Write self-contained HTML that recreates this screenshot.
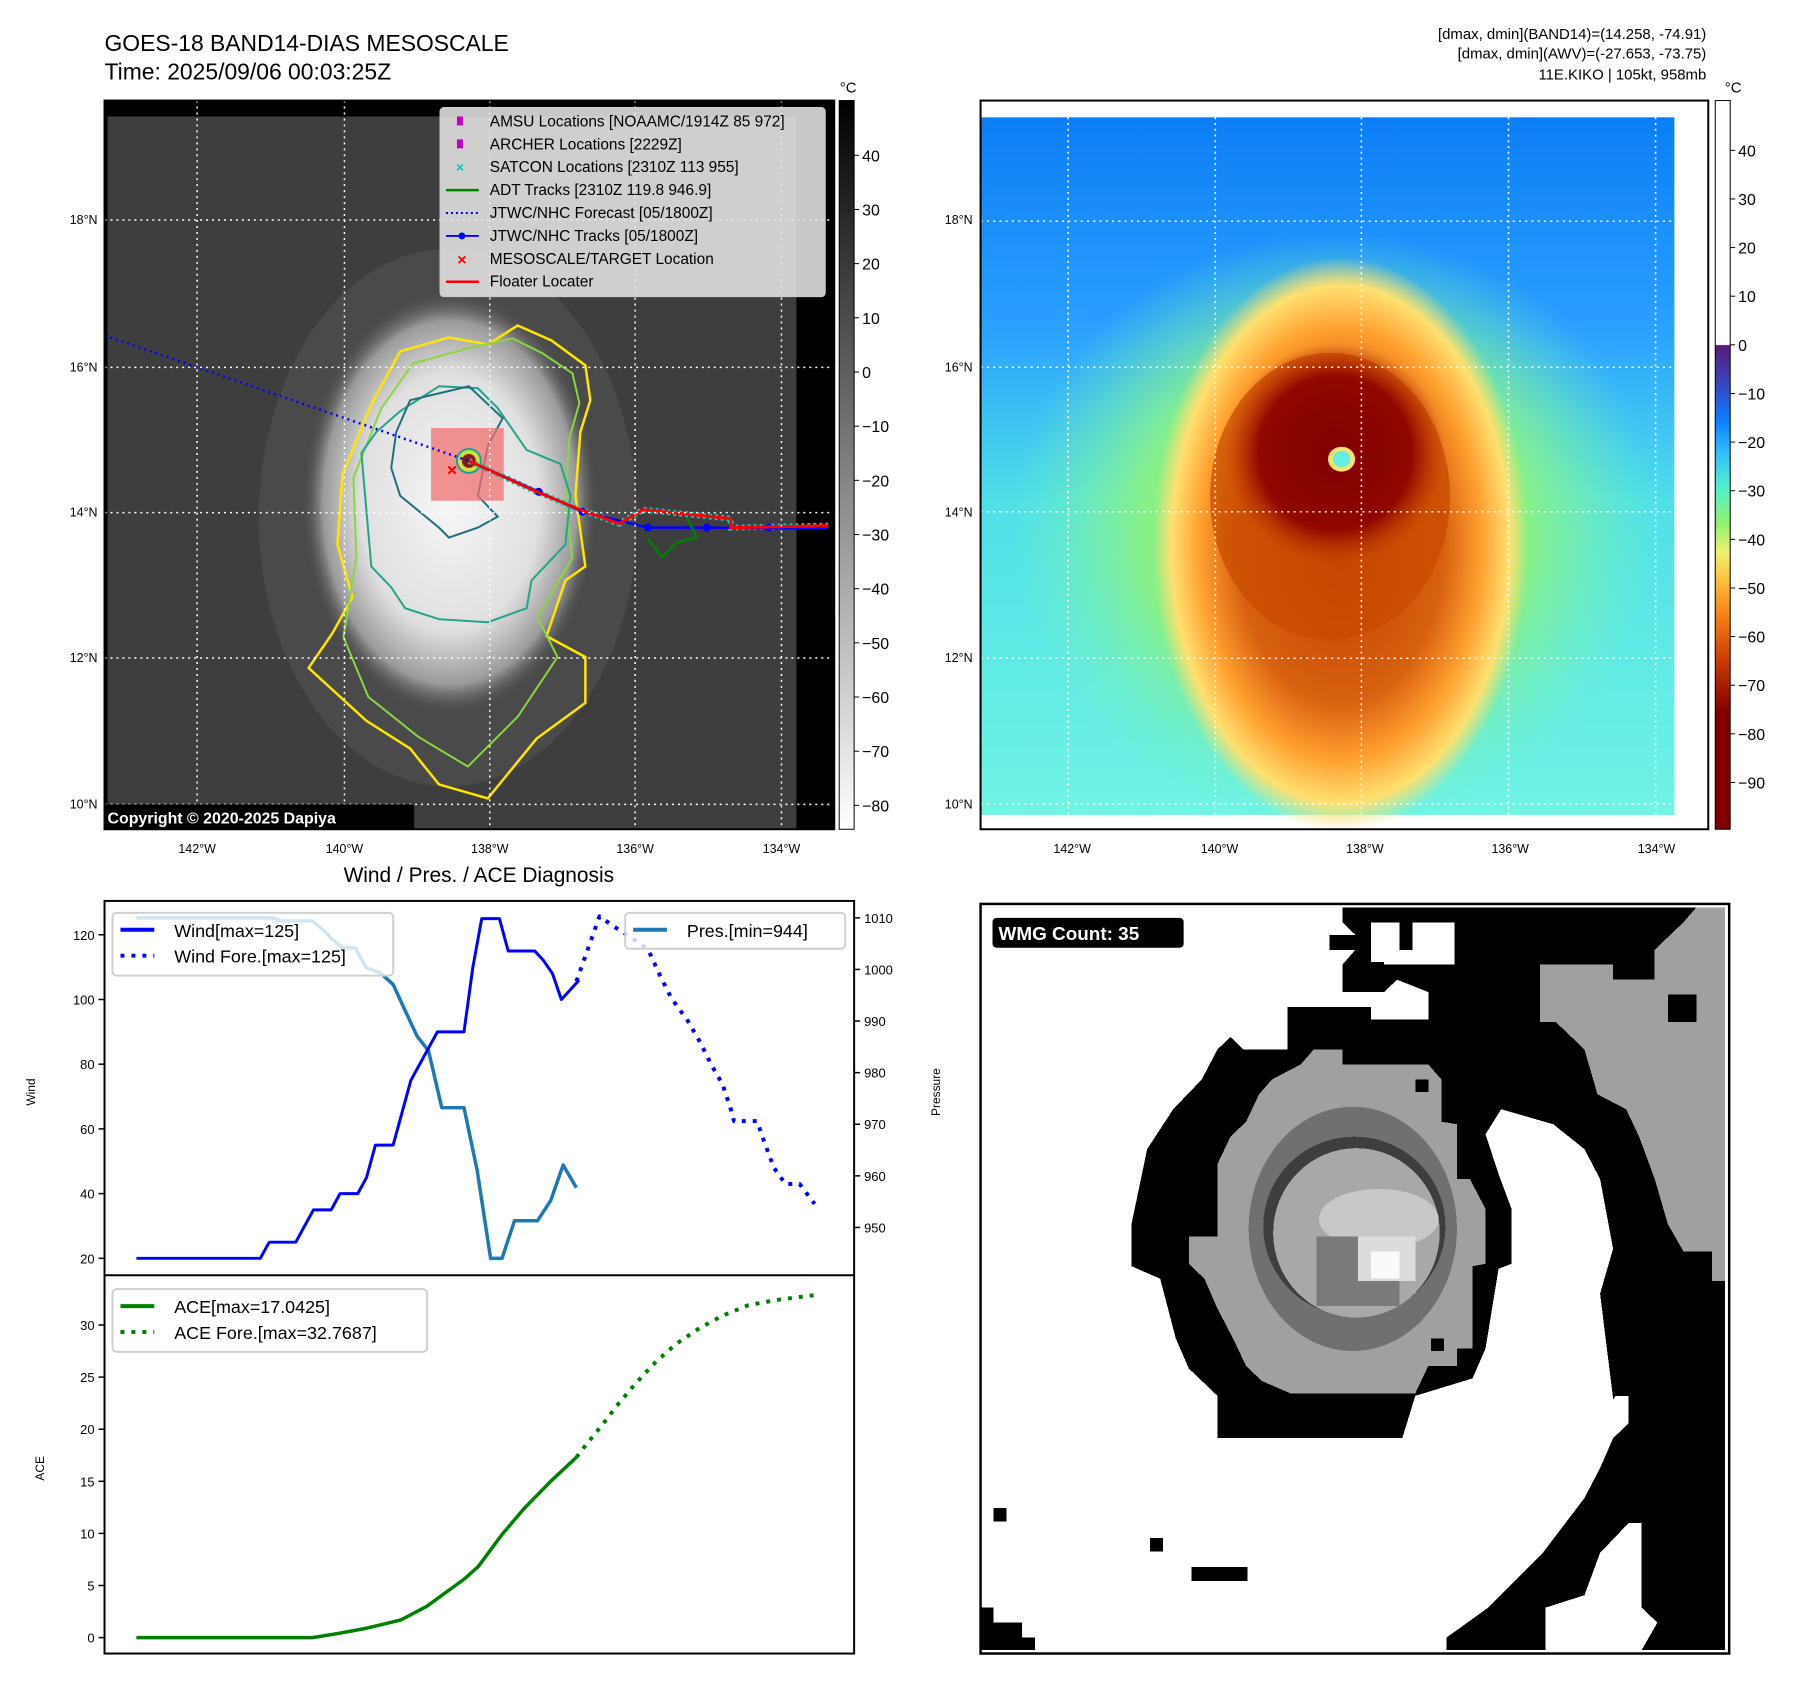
<!DOCTYPE html>
<html><head><meta charset="utf-8"><style>
body{margin:0;background:#fff}
svg{display:block;font-family:"Liberation Sans",sans-serif}
</style></head><body>
<svg id="root" width="1797" height="1690" viewBox="0 0 1797 1690" xmlns="http://www.w3.org/2000/svg">
<defs>
<linearGradient id="gcb1" x1="0" y1="0" x2="0" y2="1"><stop offset="0" stop-color="#000"/><stop offset="1" stop-color="#fff"/></linearGradient>
<linearGradient id="gcb2" x1="0" y1="0" x2="0" y2="1">
<stop offset="0" stop-color="#fff"/><stop offset="0.335" stop-color="#fff"/><stop offset="0.336" stop-color="#5a1a78"/>
<stop offset="0.40" stop-color="#3050d0"/><stop offset="0.44" stop-color="#0a80ff"/><stop offset="0.48" stop-color="#30b8ff"/>
<stop offset="0.53" stop-color="#50f0d0"/><stop offset="0.58" stop-color="#90f070"/><stop offset="0.62" stop-color="#f0f070"/>
<stop offset="0.67" stop-color="#ffb030"/><stop offset="0.72" stop-color="#f07010"/><stop offset="0.78" stop-color="#c03000"/>
<stop offset="0.84" stop-color="#800000"/><stop offset="1" stop-color="#800000"/></linearGradient>
<radialGradient id="gblob" cx="0.5" cy="0.5" r="0.5"><stop offset="0" stop-color="#f6f6f6"/><stop offset="0.6" stop-color="#e0e0e0"/><stop offset="0.85" stop-color="#9a9a9a"/><stop offset="1" stop-color="#444" stop-opacity="0"/></radialGradient>
<linearGradient id="gbg2" x1="0" y1="0" x2="0" y2="1"><stop offset="0" stop-color="#0c7ef5"/><stop offset="0.3" stop-color="#2aa0ff"/><stop offset="0.55" stop-color="#50e0e8"/><stop offset="1" stop-color="#70f4e4"/></linearGradient>
<radialGradient id="ggreen" cx="0.5" cy="0.5" r="0.5"><stop offset="0" stop-color="#a0f070"/><stop offset="0.6" stop-color="#88f088"/><stop offset="1" stop-color="#70f0c0" stop-opacity="0"/></radialGradient>
<radialGradient id="gorange" cx="0.5" cy="0.5" r="0.5"><stop offset="0" stop-color="#c04000"/><stop offset="0.55" stop-color="#d86010"/><stop offset="0.75" stop-color="#ffa030"/><stop offset="0.9" stop-color="#ffe070"/><stop offset="1" stop-color="#ffe070" stop-opacity="0"/></radialGradient>
<radialGradient id="gcore" cx="0.5" cy="0.5" r="0.5"><stop offset="0" stop-color="#800000"/><stop offset="0.7" stop-color="#900800"/><stop offset="1" stop-color="#b83000" stop-opacity="0"/></radialGradient>
<clipPath id="clipL"><rect x="105" y="101" width="733" height="732"/></clipPath>
</defs>
<g transform="scale(0.9955)">
<!-- titles -->
<text x="105" y="51" font-size="23">GOES-18 BAND14-DIAS MESOSCALE</text>
<text x="105" y="80" font-size="23">Time: 2025/09/06 00:03:25Z</text>
<g font-size="15" text-anchor="end">
<text x="1714" y="39">[dmax, dmin](BAND14)=(14.258, -74.91)</text>
<text x="1714" y="59">[dmax, dmin](AWV)=(-27.653, -73.75)</text>
<text x="1714" y="80">11E.KIKO | 105kt, 958mb</text>
</g>

<!-- LEFT MAP -->
<g clip-path="url(#clipL)">
<rect x="105" y="101" width="733" height="732" fill="#000"/>
<rect x="108" y="117" width="692" height="716" fill="#3e3e3e"/>
<ellipse cx="450" cy="520" rx="190" ry="270" fill="#4a4a4a"/>
<ellipse cx="452" cy="505" rx="150" ry="215" fill="url(#gblob)"/>
<path d="M520,327 L554,342 L588,367 L593,402 L583,434 L578,498 L588,569 L568,583 L549,639 L588,660 L588,706 L539,742 L490,802 L441,788 L412,752 L368,724 L310,671 L334,636 L354,600 L339,547 L344,477 L373,406 L402,353 L451,339 L490,346 Z" fill="none" stroke="#ffe600" stroke-width="2.5"/>
<path d="M515,340 L545,355 L575,375 L582,405 L572,440 L568,500 L575,560 L540,620 L560,660 L520,720 L470,770 L420,740 L370,700 L345,640 L358,560 L355,480 L383,410 L415,365 L470,350 Z" fill="none" stroke="#8bd640" stroke-width="2"/>
<path d="M441,388 L480,390 L500,410 L529,452 L563,466 L573,498 L568,547 L534,583 L529,611 L490,625 L441,622 L407,611 L393,590 L373,569 L368,512 L363,455 L378,434 L402,413 Z" fill="none" stroke="#23a38a" stroke-width="2"/>
<path d="M412,402 L471,388 L490,406 L505,420 L490,448 L480,498 L500,519 L480,530 L451,540 L441,530 L402,498 L393,470 L398,434 Z" fill="none" stroke="#1f6f80" stroke-width="2"/>
<rect x="433" y="430" width="73" height="73" fill="#f07070" opacity="0.75"/>
<circle cx="471" cy="463" r="12" fill="#d0e040" stroke="#20a090" stroke-width="2"/>
<circle cx="471" cy="463" r="7" fill="#8a1818"/>
<polyline points="105,337 471,463" fill="none" stroke="#0000ff" stroke-width="2.5" stroke-dasharray="2,4"/>
<polyline points="471,463 539,494 583,512 622,526 646,512 734,521 734,530 832,528" fill="none" stroke="#20c0c0" stroke-width="6" stroke-dasharray="3,3"/>
<polyline points="471,463 541,494 585,514 651,530 710,530 832,531" fill="none" stroke="#0000ff" stroke-width="2.5"/>
<g fill="#0000ff"><circle cx="541" cy="494" r="4"/><circle cx="585" cy="514" r="4"/><circle cx="651" cy="530" r="4"/><circle cx="710" cy="530" r="4"/><circle cx="772" cy="530" r="4"/></g>
<polyline points="650,540 665,560 680,545 700,540 690,520" fill="none" stroke="#008000" stroke-width="2.5"/>
<polyline points="471,463 539,494 583,512 622,526 646,512 734,521 734,530 832,528" fill="none" stroke="#ff0000" stroke-width="3"/>
<text x="454" y="478" font-size="18" fill="#ff0000" text-anchor="middle" font-weight="bold">×</text>
<g stroke="#fff" stroke-width="1.5" stroke-dasharray="2,4">
<line x1="198" y1="101" x2="198" y2="833"/><line x1="346" y1="101" x2="346" y2="833"/><line x1="492" y1="101" x2="492" y2="833"/><line x1="638" y1="101" x2="638" y2="833"/><line x1="785" y1="101" x2="785" y2="833"/>
<line x1="105" y1="221" x2="838" y2="221"/><line x1="105" y1="369" x2="838" y2="369"/><line x1="105" y1="515" x2="838" y2="515"/><line x1="105" y1="661" x2="838" y2="661"/><line x1="105" y1="808" x2="838" y2="808"/>
</g>
<rect x="103" y="808" width="313" height="26" rx="3" fill="#000"/>
<text x="108" y="827" font-size="16" font-weight="bold" fill="#fff">Copyright © 2020-2025 Dapiya</text>
</g>
<rect x="105" y="101" width="733" height="732" fill="none" stroke="#000" stroke-width="2"/>
<!-- legend -->
<g>
<rect x="442" y="108" width="387" height="190" rx="4" fill="#e4e4e4" fill-opacity="0.88" stroke="#ccc"/>
<g font-size="15.5">
<rect x="459" y="117" width="6" height="9" fill="#c000c0"/><text x="492" y="127">AMSU Locations [NOAAMC/1914Z 85 972]</text>
<rect x="459" y="140" width="6" height="9" fill="#c000c0"/><text x="492" y="150">ARCHER Locations [2229Z]</text>
<text x="462" y="173" fill="#10c0c0" text-anchor="middle" font-weight="bold" font-size="14">×</text><text x="492" y="173">SATCON Locations [2310Z 113 955]</text>
<line x1="448" y1="191" x2="481" y2="191" stroke="#008000" stroke-width="2.5"/><text x="492" y="196">ADT Tracks [2310Z 119.8 946.9]</text>
<line x1="448" y1="214" x2="481" y2="214" stroke="#0000ff" stroke-width="2" stroke-dasharray="2,3"/><text x="492" y="219">JTWC/NHC Forecast [05/1800Z]</text>
<line x1="448" y1="237" x2="481" y2="237" stroke="#0000ff" stroke-width="2"/><circle cx="464" cy="237" r="3.5" fill="#0000ff"/><text x="492" y="242">JTWC/NHC Tracks [05/1800Z]</text>
<text x="464" y="266" fill="#ff0000" text-anchor="middle" font-weight="bold" font-size="16">×</text><text x="492" y="265">MESOSCALE/TARGET Location</text>
<line x1="448" y1="283" x2="481" y2="283" stroke="#ff0000" stroke-width="2.5"/><text x="492" y="288">Floater Locater</text>
</g></g>
<!-- colorbar 1 -->
<rect x="843" y="101" width="15" height="732" fill="url(#gcb1)" stroke="#000" stroke-width="1"/>
<text x="852" y="93" font-size="15" text-anchor="middle">°C</text>
<g id="cb1ticks" font-size="16"></g>
<g font-size="12.5">
<text x="198" y="857" text-anchor="middle">142°W</text><text x="346" y="857" text-anchor="middle">140°W</text><text x="492" y="857" text-anchor="middle">138°W</text><text x="638" y="857" text-anchor="middle">136°W</text><text x="785" y="857" text-anchor="middle">134°W</text>
<text x="98" y="225" text-anchor="end">18°N</text><text x="98" y="373" text-anchor="end">16°N</text><text x="98" y="519" text-anchor="end">14°N</text><text x="98" y="665" text-anchor="end">12°N</text><text x="98" y="812" text-anchor="end">10°N</text>
</g>

<!-- RIGHT MAP -->
<svg x="985" y="101" width="731" height="732" viewBox="0 3 1395 1522" preserveAspectRatio="none">
<rect x="0" y="3" width="1395" height="1522" fill="#fff"/>
<rect x="0" y="38" width="1330" height="1457" fill="url(#gbg2)"/>
<ellipse cx="680" cy="900" rx="620" ry="620" fill="url(#ggreen)"/>
<ellipse cx="690" cy="930" rx="360" ry="600" fill="url(#gorange)"/>
<ellipse cx="670" cy="830" rx="230" ry="300" fill="#c84a00" opacity="0.7"/>
<ellipse cx="680" cy="740" rx="210" ry="230" fill="url(#gcore)"/>
<circle cx="692" cy="752" r="26" fill="#ffe070"/>
<circle cx="692" cy="752" r="17" fill="#60f0e0"/>
<g stroke="#fff" stroke-width="3" stroke-dasharray="4,8">
<line x1="168" y1="38" x2="168" y2="1495"/><line x1="450" y1="38" x2="450" y2="1495"/><line x1="730" y1="38" x2="730" y2="1495"/><line x1="1012" y1="38" x2="1012" y2="1495"/><line x1="1294" y1="38" x2="1294" y2="1495"/>
<line x1="0" y1="255" x2="1330" y2="255"/><line x1="0" y1="560" x2="1330" y2="560"/><line x1="0" y1="862" x2="1330" y2="862"/><line x1="0" y1="1168" x2="1330" y2="1168"/><line x1="0" y1="1472" x2="1330" y2="1472"/>
</g>
</svg>
<rect x="985" y="101" width="731" height="732" fill="none" stroke="#000" stroke-width="2"/>
<rect x="1723" y="101" width="15" height="732" fill="url(#gcb2)" stroke="#000" stroke-width="1"/>
<text x="1741" y="93" font-size="15" text-anchor="middle">°C</text>
<g id="cb2ticks" font-size="16"></g>
<g font-size="12.5">
<text x="1077" y="857" text-anchor="middle">142°W</text><text x="1225" y="857" text-anchor="middle">140°W</text><text x="1371" y="857" text-anchor="middle">138°W</text><text x="1517" y="857" text-anchor="middle">136°W</text><text x="1664" y="857" text-anchor="middle">134°W</text>
<text x="977" y="225" text-anchor="end">18°N</text><text x="977" y="373" text-anchor="end">16°N</text><text x="977" y="519" text-anchor="end">14°N</text><text x="977" y="665" text-anchor="end">12°N</text><text x="977" y="812" text-anchor="end">10°N</text>
</g>

<!-- WMG PANEL -->
<svg x="985" y="908" width="752" height="753" viewBox="0 8 1438 1504" preserveAspectRatio="none" shape-rendering="crispEdges">
<rect x="0" y="8" width="1438" height="1504" fill="#fff"/>
<polygon fill="#000" points="695,15 1430,15 1430,1505 895,1505 895,1480 975,1420 1080,1310 1160,1200 1190,1140 1215,1000 1190,790 1215,700 1190,560 1160,500 1100,450 1000,420 970,470 995,550 1020,620 1020,730 995,740 970,900 945,960 835,995 810,1080 455,1080 455,995 400,940 375,880 345,760 290,735 290,650 320,500 370,420 425,360 455,300 480,275 505,300 590,300 590,215 750,215 750,240 860,240 860,185 800,160 775,185 695,185 695,130 720,100 670,100 670,70 720,70 695,45"/>
<rect x="750" y="45" width="55" height="80" fill="#fff"/><rect x="830" y="45" width="80" height="85" fill="#fff"/><rect x="775" y="100" width="55" height="30" fill="#fff"/>
<rect x="750" y="215" width="110" height="25" fill="#fff"/>
<polygon fill="#fff" points="1085,1505 1085,1420 1160,1395 1190,1310 1245,1250 1270,1250 1270,1420 1300,1450 1270,1505"/>
<polygon fill="#fff" points="1110,1080 1160,1080 1220,995 1245,995 1245,1050 1215,1080 1190,1140 1135,1110"/>
<polygon fill="#a0a0a0" points="1075,130 1215,130 1215,160 1295,160 1295,100 1350,45 1375,15 1430,15 1430,765 1405,765 1405,705 1350,705 1320,650 1295,560 1265,475 1240,420 1185,390 1160,300 1105,245 1075,245"/>
<rect x="1320" y="190" width="55" height="55" fill="#000"/>
<polygon fill="#a0a0a0" points="640,300 695,300 695,330 860,330 885,360 885,445 915,450 915,560 940,560 970,620 970,730 945,735 945,900 915,900 915,935 860,935 835,990 595,990 540,965 510,935 485,880 455,820 430,760 400,730 400,675 455,675 455,530 480,475 510,445 535,390 560,360 615,330"/>
<rect x="835" y="360" width="25" height="25" fill="#000"/><rect x="865" y="880" width="25" height="25" fill="#000"/>
<ellipse cx="715" cy="660" rx="200" ry="245" fill="#707070"/>
<ellipse cx="718" cy="655" rx="175" ry="180" fill="#3e3e3e"/>
<ellipse cx="722" cy="668" rx="160" ry="170" fill="#a8a8a8"/>
<ellipse cx="765" cy="640" rx="115" ry="60" fill="#c8c8c8"/>
<rect x="645" y="675" width="160" height="140" fill="#7a7a7a"/>
<rect x="725" y="675" width="110" height="90" fill="#dcdcdc"/>
<rect x="750" y="705" width="55" height="55" fill="#fafafa"/>
<rect x="25" y="1220" width="25" height="27" fill="#000"/><rect x="325" y="1280" width="25" height="27" fill="#000"/><rect x="405" y="1338" width="108" height="28" fill="#000"/>
<polygon fill="#000" points="0,1420 25,1420 25,1450 80,1450 80,1480 105,1480 105,1505 0,1505"/>
</svg>
<rect x="985" y="908" width="752" height="753" fill="none" stroke="#000" stroke-width="2.5"/>
<rect x="997" y="922" width="192" height="30" rx="4" fill="#000"/>
<text x="1003" y="944" font-size="19" font-weight="bold" fill="#fff">WMG Count: 35</text>

<!-- CHART -->
<text x="481" y="886" font-size="21" text-anchor="middle">Wind / Pres. / ACE Diagnosis</text>
<g id="chart"></g>
</g>
</svg>

<script>
// ---- chart data ----
const windObsT = [0,1,2,3,4,5,6,7,8,9,10,11,12,13,14,15,16,17,18,19,20,21,22,23,24,25,26,27,28,29,30,31,32,33,34,35,36,37,38,39,40,41,42,43,44,45,46,47,48,49,50];
const windObsV = [20,20,20,20,20,20,20,20,20,20,20,20,20,20,20,25,25,25,25,30,35,35,35,40,40,40,45,55,55,55,65,75,80,85,90,90,90,90,110,125,125,125,115,115,115,115,112,108,100,103,106];
const windForeT = [49.7,52.3,53.9,56.5,57.8,59.1,60.4,62.3,63.6,64.9,66.2,67.2,67.5,70.1,71,72,73.3,74.9,76.6];
const windForeV = [105.6,125.7,122.6,118,115.4,107.7,100.5,93.3,87.1,80,73.8,65.5,62.4,62.4,55.3,48,43,43,36.8];
const presT = [0,15.4,16.4,19.9,21.5,22,23.3,24.7,26,27.5,29,30.2,31.7,33,34.5,37,38.5,40,41.3,42.7,45.3,46.8,48.2,49.7];
const presV = [1010,1010,1009.4,1009.4,1007,1006,1004.2,1004.2,1000.3,999.4,997.1,992.6,987.1,984.2,973.2,973.2,961,944,944,951.3,951.3,955.2,962.1,957.7];
const aceObsT = [0,19.9,22.8,26,29.9,32.8,37,38.6,41.3,43.8,46.8,49.7];
const aceObsV = [0,0,0.4,0.9,1.7,3.0,5.6,6.8,9.9,12.4,15,17.3];
const aceForeT = [49.7,50.6,52.6,54.5,56.5,58.7,61,63.6,66.2,69.1,72.3,76.9];
const aceForeV = [17.3,18.3,20.4,22.5,24.5,26.5,28.2,29.7,30.9,31.9,32.4,32.9];
const windTicks = [20,40,60,80,100,120];
const presTicks = [950,960,970,980,990,1000,1010];
const aceTicks = [0,5,10,15,20,25,30];
const cb1Ticks = [40,30,20,10,0,-10,-20,-30,-40,-50,-60,-70,-80];
const cb2Ticks = [40,30,20,10,0,-10,-20,-30,-40,-50,-60,-70,-80,-90];

const NS='http://www.w3.org/2000/svg';
function mk(tag, attrs, parent, txt){const e=document.createElementNS(NS,tag);for(const k in attrs)e.setAttribute(k,attrs[k]);if(txt!==undefined)e.textContent=txt;parent.appendChild(e);return e;}
const X = t => 137 + t*8.894;
const yWind = v => 1264 - (v-20)*(1264-939)/100;
const yPres = v => 1233 - (v-950)*(1233-922)/60;
const yAce = v => 1645 - v*(1645-1331)/30;
const chart=document.getElementById('chart');
const L=105,R=858,T=905,M=1281,B=1661;

function line(ts,vs,xf,yf,color,w,dash,name){
  const pts=ts.map((t,i)=>xf(t).toFixed(1)+','+yf(vs[i]).toFixed(1)).join(' ');
  const p=mk('polyline',{points:pts,fill:'none',stroke:color,'stroke-width':w,'stroke-linejoin':'round'},chart);
  if(dash)p.setAttribute('stroke-dasharray',dash);
  
  
}
windTicks.forEach(v=>{const y=yWind(v);mk('line',{x1:L-6,y1:y,x2:L,y2:y,stroke:'#000','stroke-width':1.5},chart);
  const t=mk('text',{x:L-10,y:y+5,'font-size':13,'text-anchor':'end'},chart,v);
  
  });
presTicks.forEach(v=>{const y=yPres(v);mk('line',{x1:R,y1:y,x2:R+6,y2:y,stroke:'#000','stroke-width':1.5},chart);
  const t=mk('text',{x:R+10,y:y+5,'font-size':13},chart,v);
  
  });
aceTicks.forEach(v=>{const y=yAce(v);mk('line',{x1:L-6,y1:y,x2:L,y2:y,stroke:'#000','stroke-width':1.5},chart);
  const t=mk('text',{x:L-10,y:y+5,'font-size':13,'text-anchor':'end'},chart,v);
  
  });
let lab=mk('text',{x:0,y:0,'font-size':12,'text-anchor':'middle',transform:'translate(35,1097) rotate(-90)'},chart,'Wind');


lab=mk('text',{x:0,y:0,'font-size':12,'text-anchor':'middle',transform:'translate(944,1097) rotate(-90)'},chart,'Pressure');


lab=mk('text',{x:0,y:0,'font-size':12,'text-anchor':'middle',transform:'translate(44,1475) rotate(-90)'},chart,'ACE');



line(presT,presV,X,yPres,'#1f77b4',3.5,null,'pressure-line');
line(windObsT,windObsV,X,yWind,'#0000ff',3,null,'wind-line');
line(windForeT,windForeV,X,yWind,'#0000ff',4,'4,7','wind-forecast-line');
line(aceObsT,aceObsV,X,yAce,'#008000',3.5,null,'ace-line');
line(aceForeT,aceForeV,X,yAce,'#008000',4,'4,7','ace-forecast-line');

mk('rect',{x:L,y:T,width:R-L,height:B-T,fill:'none',stroke:'#000','stroke-width':2},chart);
mk('line',{x1:L,y1:M,x2:R,y2:M,stroke:'#000','stroke-width':2},chart);

function legend(x,y,w,h,items,name){
  const g=mk('g',{},chart);
  
  
  mk('rect',{x:x,y:y,width:w,height:h,rx:4,fill:'#fff','fill-opacity':0.8,stroke:'#d0d0d0','stroke-width':2},g);
  items.forEach((it,i)=>{const cy=y+17+i*26;
    const l=mk('line',{x1:x+8,y1:cy,x2:x+42,y2:cy,stroke:it[1],'stroke-width':4},g);
    if(it[2])l.setAttribute('stroke-dasharray','4,7');
    mk('text',{x:x+62,y:cy+7,'font-size':18},g,it[0]);});
}
legend(113,917,282,63,[['Wind[max=125]','#0000ff',0],['Wind Fore.[max=125]','#0000ff',1]],'wind-legend');
legend(628,917,221,36,[['Pres.[min=944]','#1f77b4',0]],'pressure-legend');
legend(113,1295,316,63,[['ACE[max=17.0425]','#008000',0],['ACE Fore.[max=32.7687]','#008000',1]],'ace-legend');

const cb1=document.getElementById('cb1ticks');
cb1Ticks.forEach(v=>{const y=156+(40-v)*(809-156)/120;
  mk('line',{x1:858,y1:y,x2:863,y2:y,stroke:'#000'},cb1);
  const t=mk('text',{x:866,y:y+6},cb1,v<0?'−'+(-v):v);
  
  });
const cb2=document.getElementById('cb2ticks');
cb2Ticks.forEach(v=>{const y=151+(40-v)*(786-151)/130;
  mk('line',{x1:1738,y1:y,x2:1743,y2:y,stroke:'#000'},cb2);
  const t=mk('text',{x:1746,y:y+6},cb2,v<0?'−'+(-v):v);
  
  });
</script>
</body></html>
